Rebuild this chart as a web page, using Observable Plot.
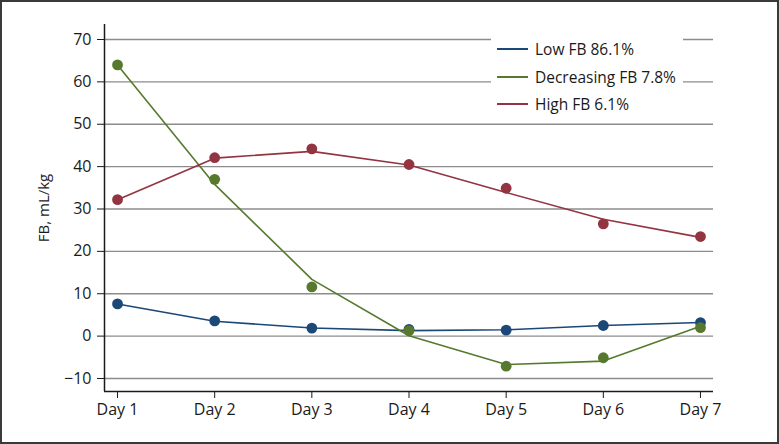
<!DOCTYPE html>
<html>
<head>
<meta charset="utf-8">
<script src="https://cdn.jsdelivr.net/npm/d3@7"></script>
<script src="https://cdn.jsdelivr.net/npm/@observablehq/plot@0.6"></script>
<style>
  html, body { margin: 0; padding: 0; background: #fff; }
  #wrap { position: relative; width: 775px; height: 440px; border: 2px solid #3a3a3a; font-family: "Open Sans", sans-serif; }
  #legend { position: absolute; left: 489px; top: 29px; width: 192px; height: 86px; background: #fff; font-size: 15.5px; color: #1a1a1a; }
  #legend .row { position: absolute; left: 0; height: 22px; display: flex; align-items: center; white-space: nowrap; }
  #legend .sw { width: 31px; height: 2px; margin-left: 6px; margin-right: 7px; }
</style>
</head>
<body>
<div id="wrap"><div id="legend"></div></div>
<script>
const days = [1, 2, 3, 4, 5, 6, 7];
const dayLabels = ["Day 1", "Day 2", "Day 3", "Day 4", "Day 5", "Day 6", "Day 7"];
const seriesNames = ["Low FB 86.1%", "Decreasing FB 7.8%", "High FB 6.1%"];
const seriesColors = ["#1b4877", "#56792d", "#933441"];
// observed means (dots)
const lowObs  = [7.6, 3.6, 1.9, 1.6, 1.4, 2.5, 3.2];
const decObs  = [64.0, 37.0, 11.6, 1.3, -7.1, -5.1, 2.0];
const highObs = [32.2, 42.1, 44.2, 40.5, 34.9, 26.5, 23.5];
// fitted trajectories (lines)
const lowFit  = [7.6, 3.5, 1.9, 1.3, 1.5, 2.5, 3.2];
const decFit  = [64.0, 35.8, 13.4, 0.1, -6.7, -5.9, 2.3];
const highFit = [32.2, 42.0, 43.6, 40.4, 33.9, 27.6, 23.3];
const yTicks = [-10, 0, 10, 20, 30, 40, 50, 60, 70];

const obsSets = [lowObs, decObs, highObs];
const fitSets = [lowFit, decFit, highFit];
const obs = [], fit = [];
seriesNames.forEach((s, i) => {
  days.forEach((d, j) => {
    obs.push({day: d, value: obsSets[i][j], series: s});
    fit.push({day: d, value: fitSets[i][j], series: s});
  });
});

const xDom = [0.866, 7.134];
const yDom = [-13.07, 73.54];

const chart = Plot.plot({
  width: 775,
  height: 440,
  marginLeft: 102,
  marginRight: 64,
  marginTop: 22,
  marginBottom: 51,
  style: {fontFamily: "Open Sans, sans-serif", fontSize: "16px", color: "#1a1a1a", background: "transparent"},
  x: {type: "linear", domain: xDom},
  y: {domain: yDom},
  color: {domain: seriesNames, range: seriesColors},
  marks: [
    Plot.ruleY(yTicks, {stroke: "#8c8c8c", strokeWidth: 1.3}),
    Plot.ruleX([xDom[0]], {stroke: "#1a1a1a", strokeWidth: 1.5}),
    Plot.ruleY([yDom[0]], {stroke: "#1a1a1a", strokeWidth: 1.5}),
    Plot.axisY({ticks: yTicks, tickSize: 7, tickPadding: 6, label: null, stroke: "#1a1a1a", fontSize: 16}),
    Plot.axisX({ticks: days, tickSize: 7, tickPadding: 5, label: null, tickFormat: d => dayLabels[d - 1], fontSize: 16}),
    Plot.text(["FB, mL/kg"], {frameAnchor: "left", textAnchor: "middle", dx: -60, rotate: -90, fontSize: 15, fill: "#1a1a1a"}),
    Plot.line(fit, {x: "day", y: "value", z: "series", stroke: "series", strokeWidth: 1.6}),
    Plot.dot(obs, {x: "day", y: "value", fill: "series", r: 5.4})
  ]
});
document.getElementById("wrap").insertBefore(chart, document.getElementById("legend"));

const legend = document.getElementById("legend");
seriesNames.forEach((s, i) => {
  const row = document.createElement("div");
  row.className = "row";
  row.style.top = (7 + i * 27.5) + "px";
  const sw = document.createElement("span");
  sw.className = "sw";
  sw.style.background = seriesColors[i];
  const t = document.createElement("span");
  t.textContent = s;
  row.appendChild(sw);
  row.appendChild(t);
  legend.appendChild(row);
});
</script>
</body>
</html>
